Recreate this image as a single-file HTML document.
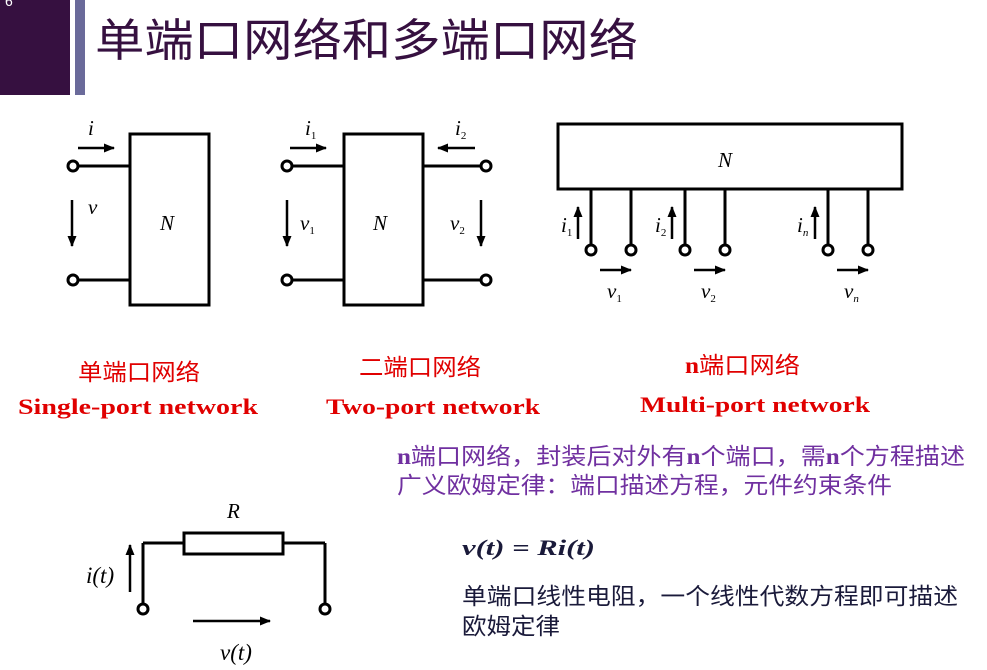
<!DOCTYPE html>
<html><head><meta charset="utf-8"><style>
body{margin:0;background:#fff;}
svg{display:block}
.cn{font-family:"Liberation Sans","Noto Sans CJK SC",sans-serif}
.it{font-family:"Liberation Serif",serif;font-style:italic}
.bs{font-family:"Liberation Serif",serif;font-weight:bold}
</style></head><body>
<svg width="987" height="670" viewBox="0 0 987 670" xmlns="http://www.w3.org/2000/svg">
<defs><marker id="a" markerWidth="11" markerHeight="9" refX="10" refY="4.5" orient="auto" markerUnits="userSpaceOnUse"><path d="M0,0L11,4.5L0,9Z" fill="#000"/></marker></defs>
<rect x="0" y="0" width="70" height="95" fill="#361040"/>
<rect x="75" y="0" width="10" height="95" fill="#6a6a9a"/>
<text x="5" y="6" fill="#fff" font-size="14" class="cn">6</text>
<text x="95" y="56" font-size="45" fill="#361040" class="cn" textLength="543" lengthAdjust="spacingAndGlyphs">单端口网络和多端口网络</text>
<g stroke="#000" stroke-width="3" fill="none">
<rect x="130" y="134" width="79" height="171"/>
<line x1="78" y1="166" x2="130" y2="166"/><line x1="78" y1="280" x2="130" y2="280"/>
<rect x="344" y="134" width="79" height="171"/>
<line x1="292" y1="166" x2="344" y2="166"/><line x1="292" y1="280" x2="344" y2="280"/>
<line x1="423" y1="166" x2="481" y2="166"/><line x1="423" y1="280" x2="481" y2="280"/>
<rect x="558" y="124" width="344" height="65"/>
<line x1="591" y1="189" x2="591" y2="245"/><line x1="631" y1="189" x2="631" y2="245"/>
<line x1="685" y1="189" x2="685" y2="245"/><line x1="725" y1="189" x2="725" y2="245"/>
<line x1="828" y1="189" x2="828" y2="245"/><line x1="868" y1="189" x2="868" y2="245"/>
<line x1="143" y1="604" x2="143" y2="543"/><line x1="143" y1="543" x2="183" y2="543"/>
<rect x="184" y="533" width="99" height="21"/>
<line x1="283" y1="543" x2="325" y2="543"/><line x1="325" y1="543" x2="325" y2="604"/>
</g>
<g stroke="#000" stroke-width="3" fill="#fff">
<circle cx="73" cy="166" r="5"/><circle cx="73" cy="280" r="5"/>
<circle cx="287" cy="166" r="5"/><circle cx="287" cy="280" r="5"/>
<circle cx="486" cy="166" r="5"/><circle cx="486" cy="280" r="5"/>
<circle cx="591" cy="250" r="5"/><circle cx="631" cy="250" r="5"/>
<circle cx="685" cy="250" r="5"/><circle cx="725" cy="250" r="5"/>
<circle cx="828" cy="250" r="5"/><circle cx="868" cy="250" r="5"/>
<circle cx="143" cy="609" r="5"/><circle cx="325" cy="609" r="5"/>
</g>
<g stroke="#000" stroke-width="2.5" marker-end="url(#a)">
<line x1="78" y1="148" x2="114" y2="148"/>
<line x1="72" y1="200" x2="72" y2="246"/>
<line x1="290" y1="148" x2="326" y2="148"/>
<line x1="475" y1="148" x2="438" y2="148"/>
<line x1="287" y1="200" x2="287" y2="246"/>
<line x1="481" y1="200" x2="481" y2="246"/>
<line x1="578" y1="239" x2="578" y2="207"/>
<line x1="672" y1="239" x2="672" y2="207"/>
<line x1="815" y1="239" x2="815" y2="207"/>
<line x1="600" y1="270" x2="631" y2="270"/>
<line x1="694" y1="270" x2="725" y2="270"/>
<line x1="837" y1="270" x2="868" y2="270"/>
<line x1="130" y1="592" x2="130" y2="545"/>
<line x1="193" y1="621" x2="270" y2="621"/>
</g>
<g class="it" font-size="21" fill="#000">
<text x="88" y="135">i</text>
<text x="88" y="214">v</text>
<text x="160" y="230">N</text>
<text x="305" y="135">i<tspan font-size="11" font-style="normal" dy="4">1</tspan></text>
<text x="455" y="135">i<tspan font-size="11" font-style="normal" dy="4">2</tspan></text>
<text x="300" y="230">v<tspan font-size="11" font-style="normal" dy="4">1</tspan></text>
<text x="373" y="230">N</text>
<text x="450" y="230">v<tspan font-size="11" font-style="normal" dy="4">2</tspan></text>
<text x="718" y="167">N</text>
<text x="561" y="232">i<tspan font-size="11" font-style="normal" dy="4">1</tspan></text>
<text x="655" y="232">i<tspan font-size="11" font-style="normal" dy="4">2</tspan></text>
<text x="797" y="232">i<tspan font-size="11" dy="4">n</tspan></text>
<text x="607" y="298">v<tspan font-size="11" font-style="normal" dy="4">1</tspan></text>
<text x="701" y="298">v<tspan font-size="11" font-style="normal" dy="4">2</tspan></text>
<text x="844" y="298">v<tspan font-size="11" dy="4">n</tspan></text>
<text x="227" y="518">R</text>
<text x="86" y="583" font-size="23">i(t)</text>
<text x="220" y="660" font-size="23">v(t)</text>
</g>
<g fill="#e00000">
<text x="78" y="380" font-size="23" class="cn" textLength="122" lengthAdjust="spacingAndGlyphs">单端口网络</text>
<text x="18" y="414" font-size="22" class="bs" textLength="240" lengthAdjust="spacingAndGlyphs">Single-port network</text>
<text x="359" y="375" font-size="23" class="cn" textLength="122" lengthAdjust="spacingAndGlyphs">二端口网络</text>
<text x="326" y="414" font-size="22" class="bs" textLength="214" lengthAdjust="spacingAndGlyphs">Two-port network</text>
<text x="685" y="373" font-size="23" class="cn" textLength="115" lengthAdjust="spacingAndGlyphs"><tspan class="bs">n</tspan>端口网络</text>
<text x="640" y="412" font-size="22" class="bs" textLength="230" lengthAdjust="spacingAndGlyphs">Multi-port network</text>
</g>
<g fill="#7030a0" font-size="23" class="cn">
<text x="397" y="464" textLength="568" lengthAdjust="spacingAndGlyphs"><tspan class="bs">n</tspan>端口网络，封装后对外有<tspan class="bs">n</tspan>个端口，需<tspan class="bs">n</tspan>个方程描述</text>
<text x="397" y="493" textLength="495" lengthAdjust="spacingAndGlyphs">广义欧姆定律：端口描述方程，元件约束条件</text>
</g>
<text x="462" y="555" font-size="22" class="bs" font-style="italic" fill="#1a1a3a" textLength="133" lengthAdjust="spacingAndGlyphs">v(t) = Ri(t)</text>
<g fill="#1a1a3a" font-size="23" class="cn">
<text x="462" y="604" textLength="496" lengthAdjust="spacingAndGlyphs">单端口线性电阻，一个线性代数方程即可描述</text>
<text x="462" y="634" textLength="98" lengthAdjust="spacingAndGlyphs">欧姆定律</text>
</g>
</svg>
</body></html>
